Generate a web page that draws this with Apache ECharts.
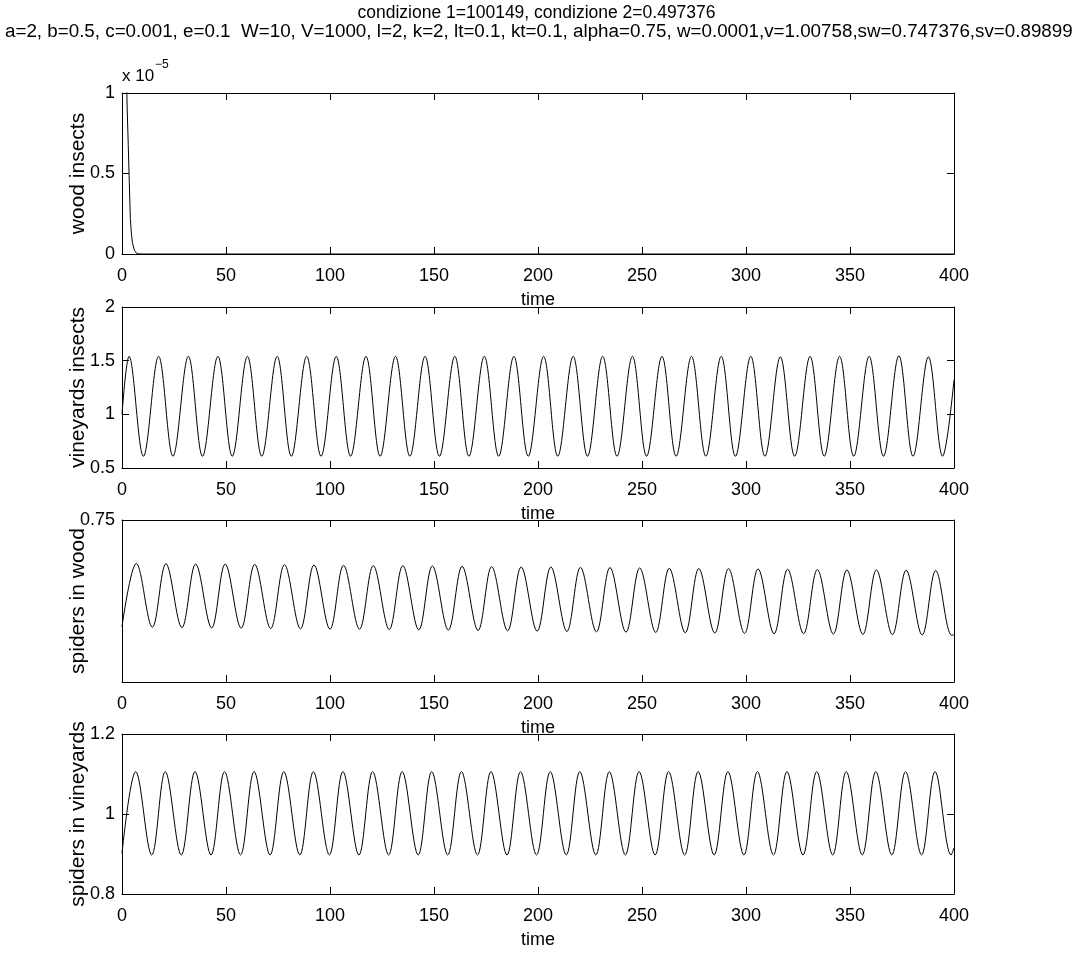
<!DOCTYPE html>
<html><head><meta charset="utf-8">
<script src="https://cdn.jsdelivr.net/npm/echarts@6/dist/echarts.min.js"></script>
<style>html,body{margin:0;padding:0;background:#fff}#c{width:1073px;height:955px}</style>
</head><body><div id="c"></div>
<script>
// ---------- texts ----------
const title1 = 'condizione 1=100149, condizione 2=0.497376';
const title2 = 'a=2, b=0.5, c=0.001, e=0.1  W=10, V=1000, l=2, k=2, lt=0.1, kt=0.1, alpha=0.75, w=0.0001,v=1.00758,sw=0.747376,sv=0.89899';
const yNames = ['wood insects', 'vineyards insects', 'spiders in wood', 'spiders in vineyards'];
const xName = 'time';
const expText = ['x 10', '\u22125'];

// ---------- axes ticks ----------
const xMin = 0, xMax = 400, xInterval = 50;
const yMins = [0, 0.5, 0.7, 0.8];
const yMaxs = [1, 2, 0.75, 1.2];
const yIntervals = [0.5, 0.5, 0.05, 0.2];

// ---------- panel 1: wood insects (units of 1e-5) ----------
const woodT = [0, 1, 2, 2.5, 3, 3.5, 4, 4.5, 5, 6, 7, 8, 10, 400];
const woodV = [4.0, 2.1, 1.2, 0.9, 0.68, 0.45, 0.22, 0.13, 0.07, 0.022, 0.005, 0.001, 0, 0];

// ---------- panel 2: vineyards insects ----------
const viStart = [0, 1.0], viEnd = [400, 1.32];
const viPeakT = [3.4,17.6,31.9,46.1,60.3,74.6,88.8,103.0,117.3,131.5,145.7,160.0,174.2,188.4,202.7,216.9,231.1,245.4,259.6,273.8,288.1,302.3,316.5,330.8,345.0,359.2,373.5,387.7];
const viPeakV = [1.54,1.54,1.54,1.54,1.54,1.54,1.54,1.54,1.54,1.54,1.54,1.54,1.54,1.54,1.54,1.54,1.54,1.54,1.54,1.54,1.54,1.54,1.535,1.54,1.54,1.54,1.545,1.535];
const viTroughT = [10.3,24.5,38.7,53.0,67.2,81.4,95.7,109.9,124.1,138.4,152.6,166.8,181.1,195.3,209.5,223.8,238.0,252.2,266.4,280.7,294.9,309.1,323.4,337.6,351.8,366.1,380.3,394.5];
const viTroughV = [0.61,0.61,0.61,0.61,0.61,0.61,0.61,0.61,0.61,0.61,0.61,0.61,0.61,0.61,0.61,0.61,0.61,0.61,0.61,0.61,0.61,0.61,0.61,0.61,0.61,0.61,0.61,0.61];

// ---------- panel 3: spiders in wood ----------
const swStart = [0, 0.7171], swEnd = [400, 0.7146];
const swPeakT = [6.9,21.1,35.4,49.6,63.8,78.1,92.3,106.5,120.8,135.0,149.2,163.5,177.7,191.9,206.2,220.4,234.6,248.9,263.1,277.3,291.6,305.8,320.0,334.3,348.5,362.7,377.0,391.2];
const swPeakV = [0.7366,0.7365,0.7364,0.7364,0.7363,0.7362,0.7361,0.7360,0.7359,0.7359,0.7358,0.7357,0.7356,0.7355,0.7355,0.7354,0.7353,0.7352,0.7351,0.7350,0.7350,0.7349,0.7348,0.7347,0.7346,0.7346,0.7345,0.7344];
const swTroughT = [14.6,28.8,43.1,57.3,71.5,85.8,100.0,114.2,128.5,142.7,156.9,171.2,185.4,199.6,213.9,228.1,242.3,256.6,270.8,285.0,299.3,313.5,327.7,342.0,356.2,370.4,384.7,398.9];
const swTroughV = [0.7169,0.7168,0.7167,0.7166,0.7165,0.7164,0.7163,0.7163,0.7162,0.7161,0.7160,0.7159,0.7158,0.7157,0.7156,0.7155,0.7154,0.7153,0.7152,0.7151,0.7150,0.7149,0.7149,0.7148,0.7147,0.7146,0.7145,0.7144];

// ---------- panel 4: spiders in vineyards ----------
const svStart = [0, 0.902], svEnd = [400, 0.915];
const svPeakT = [6.6,20.8,35.1,49.3,63.5,77.8,92.0,106.2,120.5,134.7,148.9,163.2,177.4,191.6,205.9,220.1,234.3,248.6,262.8,277.0,291.3,305.5,319.7,334.0,348.2,362.4,376.7,390.9];
const svPeakV = [1.106,1.106,1.106,1.106,1.106,1.106,1.106,1.106,1.106,1.106,1.106,1.106,1.106,1.106,1.106,1.106,1.106,1.106,1.106,1.106,1.106,1.106,1.106,1.106,1.106,1.106,1.106,1.106];
const svTroughT = [14.3,28.5,42.8,57.0,71.2,85.5,99.7,113.9,128.2,142.4,156.6,170.9,185.1,199.3,213.6,227.8,242.0,256.3,270.5,284.7,299.0,313.2,327.4,341.7,355.9,370.1,384.4,398.6];
const svTroughV = [0.8975,0.8975,0.8975,0.8975,0.8975,0.8975,0.8975,0.8975,0.8975,0.8975,0.8975,0.8975,0.8975,0.8975,0.8975,0.8975,0.8975,0.8975,0.8975,0.8975,0.8975,0.8975,0.8975,0.8975,0.8975,0.8975,0.8975,0.8975];

// ---------- build ----------
function pairs(t, v) { return t.map((x, i) => [x, v[i]]); }
function wave(start, pT, pV, tT, tV, end) {
  const pts = [start].concat(pairs(pT, pV), pairs(tT, tV), [end]);
  pts.sort((a, b) => a[0] - b[0]);
  return pts;
}
const seriesData = [
  pairs(woodT, woodV),
  wave(viStart, viPeakT, viPeakV, viTroughT, viTroughV, viEnd),
  wave(swStart, swPeakT, swPeakV, swTroughT, swTroughV, swEnd),
  wave(svStart, svPeakT, svPeakV, svTroughT, svTroughV, svEnd)
];

const FONT = '"Liberation Sans", Arial, Helvetica, sans-serif';
const grids = [
  { left: 122, right: 119, top: 93, height: 161 },
  { left: 122, right: 119, top: 307, height: 161 },
  { left: 122, right: 119, top: 520, height: 162 },
  { left: 122, right: 119, top: 734, height: 160 }
];
const lineSt = { show: true, onZero: false, lineStyle: { color: '#000', width: 1 } };
const tickSt = { show: true, inside: true, length: 7, lineStyle: { color: '#000', width: 1 } };

const xAxes = [], yAxes = [], series = [];
grids.forEach((g, i) => {
  xAxes.push({
    gridIndex: i, type: 'value', position: 'bottom', min: xMin, max: xMax, interval: xInterval,
    axisLine: lineSt, axisTick: tickSt, splitLine: { show: false },
    axisLabel: { fontFamily: FONT, fontSize: 18, color: '#000', margin: 13 },
    name: xName, nameLocation: 'middle', nameGap: 37, nameMoveOverlap: false,
    nameTextStyle: { fontFamily: FONT, fontSize: 18, color: '#000' }
  });
  xAxes.push({
    gridIndex: i, type: 'value', position: 'top', min: xMin, max: xMax, interval: xInterval,
    axisLine: lineSt, axisTick: tickSt, splitLine: { show: false }, axisLabel: { show: false }
  });
  const yFmt = i === 2
    ? (v) => (Math.abs(v - yMaxs[2]) < 1e-9 ? String(yMaxs[2]) : '')
    : null;
  yAxes.push({
    gridIndex: i, type: 'value', position: 'left', min: yMins[i], max: yMaxs[i], interval: yIntervals[i],
    axisLine: lineSt, axisTick: tickSt, splitLine: { show: false },
    axisLabel: Object.assign({ fontFamily: FONT, fontSize: 18, color: '#000', margin: 7 }, yFmt ? { formatter: yFmt } : {}),
    name: yNames[i], nameLocation: 'middle', nameRotate: 90, nameGap: 33, nameMoveOverlap: false,
    nameTextStyle: { fontFamily: FONT, fontSize: 21, color: '#000' }
  });
  yAxes.push({
    gridIndex: i, type: 'value', position: 'right', min: yMins[i], max: yMaxs[i], interval: yIntervals[i],
    axisLine: lineSt, axisTick: i === 2 ? { show: false } : tickSt, splitLine: { show: false }, axisLabel: { show: false }
  });
  series.push({
    type: 'line', xAxisIndex: i * 2, yAxisIndex: i * 2, data: seriesData[i],
    showSymbol: false, symbol: 'none', smooth: i === 0 ? false : 0.36, clip: true,
    lineStyle: { color: '#000', width: 1 }, silent: true
  });
});

const chart = echarts.init(document.getElementById('c'), null, { renderer: 'canvas' });
chart.setOption({
  animation: false,
  backgroundColor: '#fff',
  grid: grids,
  xAxis: xAxes,
  yAxis: yAxes,
  series: series,
  graphic: [
    { type: 'text', left: 'center', top: 4, style: { text: title1, fontFamily: FONT, fontSize: 17.5, fill: '#000' } },
    { type: 'text', left: 5, top: 22, style: { text: title2, fontFamily: FONT, fontSize: 18.8, fill: '#000' } },
    { type: 'text', left: 122, top: 68, style: { text: expText[0], fontFamily: FONT, fontSize: 17, fill: '#000' } },
    { type: 'text', left: 155, top: 59, style: { text: expText[1], fontFamily: FONT, fontSize: 12, fill: '#000' } }
  ]
});
</script></body></html>
